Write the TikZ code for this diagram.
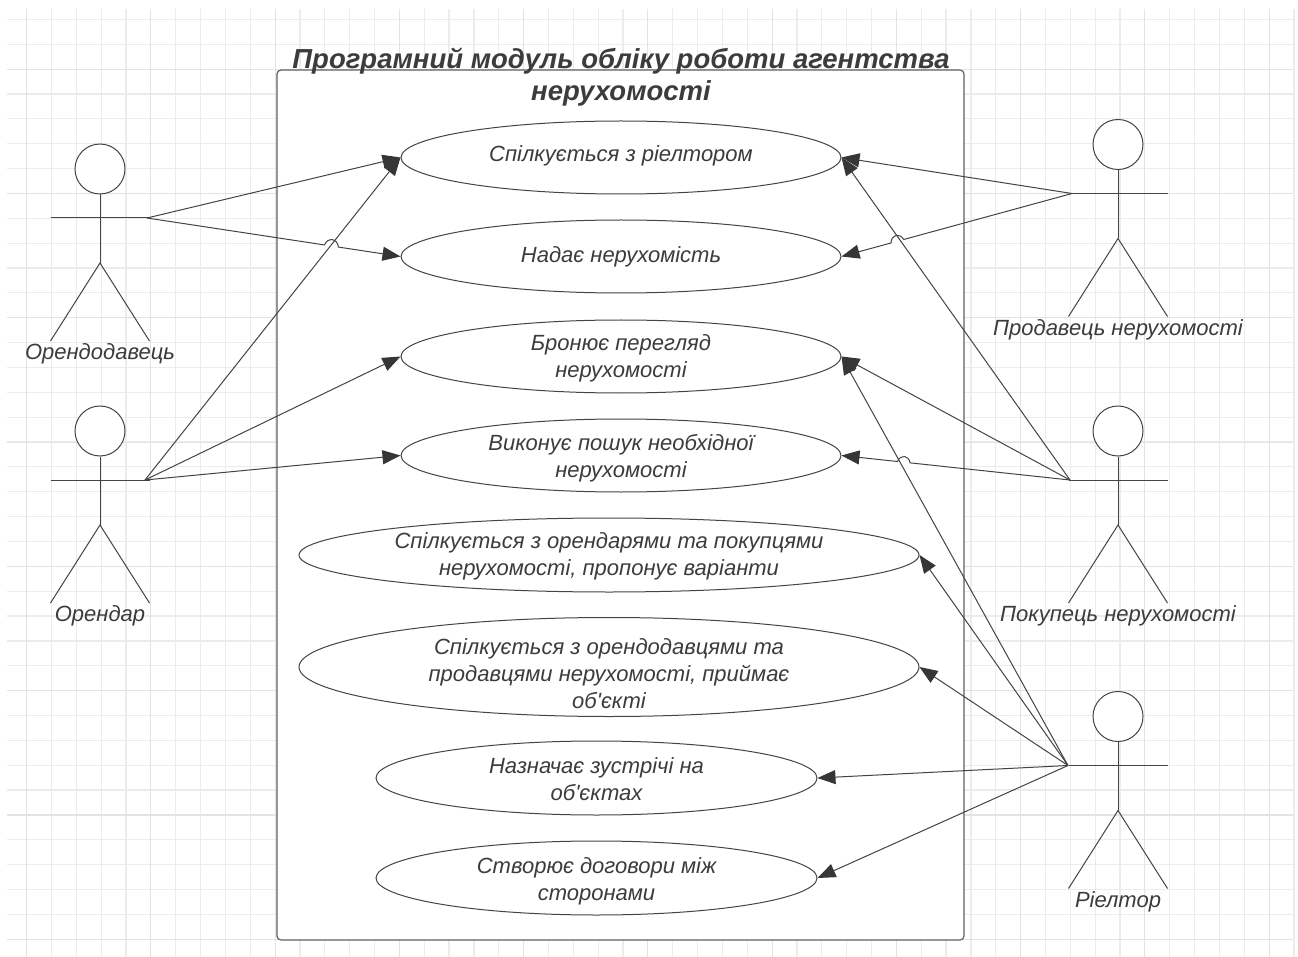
\documentclass[tikz,border=0pt]{standalone}
\usepackage{fontspec}
\setmainfont{Liberation Sans}[Ligatures=TeXOff]
\usetikzlibrary{arrows.meta,shapes.geometric,calc}
\definecolor{ln}{HTML}{444444}
\definecolor{txt}{HTML}{3C3C3C}
\definecolor{gmin}{HTML}{ECECEC}
\definecolor{gmaj}{HTML}{E3E3E3}
\tikzset{
 usecase/.style={draw=ln,line width=1pt,ellipse,fill=white,inner sep=0pt,text=txt,
   font=\fontsize{22}{27}\selectfont\itshape},
 sysbox/.style={draw=ln!85!white,line width=1.2pt,rounded corners=4pt,fill=white,minimum width=687pt,minimum height=870pt,inner sep=0pt},
 conn/.style={draw=ln,line width=1pt,-{Triangle[length=18pt,width=14pt,color=ln!80!black]}},
 limb/.style={draw=ln,line width=1pt},
 head/.style={circle,draw=ln,line width=1pt,minimum size=50pt,inner sep=0pt,fill=white},
 actorlabel/.style={text=txt,font=\fontsize{22}{27}\selectfont\itshape,inner sep=0pt},
 titlelabel/.style={text=txt,align=center,font=\fontsize{27.5}{32}\selectfont\bfseries\itshape,inner sep=0pt},
}
% use-case text, centred #1 pt below the ellipse centre
\newcommand\ut[2]{\raisebox{\dimexpr-7.5pt-#1pt\relax}[0pt][0pt]{\begin{tabular}[c]{@{}c@{}}#2\end{tabular}}}
% name, head x, head y, label, port x offset
\newcommand\actorfig[5]{%
 \node[head] (#1h) at (#2,#3) {};
 \coordinate (#1hip) at (#2,#3+94);
 \coordinate (#1al) at (#2-49.5,#3+49);
 \coordinate (#1ar) at (#2+49.5,#3+49);
 \coordinate (#1ll) at (#2-49.5,#3+172);
 \coordinate (#1lr) at (#2+49.5,#3+172);
 \coordinate (#1p) at (#2+#5,#3+49);
 \draw[limb] (#1h.south) -- (#1hip);
 \draw[limb] (#1al) -- (#1ar);
 \draw[limb] (#1ll) -- (#1hip) -- (#1lr);
 \node[actorlabel] (#1t) at (#2,#3+185) {#4};
}
\newcommand\hopconn[5]{% from, to, t1, t2, side
 \draw[conn] (#1) -- ($(#1)!#3!(#2)$) to[#5] ($(#1)!#4!(#2)$) -- (#2);
}
\begin{document}
\begin{tikzpicture}[x=1pt,y=-1pt]
\useasboundingbox (0,0) rectangle (1298,957);
\fill[white] (0,0) rectangle (1298,957);
% grid
\foreach \k in {0,...,51}{
  \pgfmathsetmacro\gx{26.6+24.85*\k}
  \draw[gmin,line width=1.2pt] (\gx,9) -- (\gx,957);
}
\foreach \k in {0,...,37}{
  \pgfmathsetmacro\gy{19.4+24.86*\k}
  \draw[gmin,line width=1.2pt] (7,\gy) -- (1293,\gy);
}
\foreach \k in {0,...,10}{
  \pgfmathsetmacro\gx{26.6+124.25*\k}
  \draw[gmaj,line width=1.2pt] (\gx,9) -- (\gx,957);
}
\foreach \k in {0,...,7}{
  \pgfmathsetmacro\gy{69.2+124.3*\k}
  \draw[gmaj,line width=1.2pt] (7,\gy) -- (1293,\gy);
}
% system box
\node[sysbox] (sys) at (620.5,505) {};
\node[titlelabel] (title) at (621,77) {Програмний модуль обліку роботи агентства\\нерухомості};
% use cases
\node[usecase,minimum width=440pt,minimum height=73pt] (u1) at (621,157.5) {\ut{-3.5}{Спілкується з ріелтором}};
\node[usecase,minimum width=440pt,minimum height=73pt] (u2) at (621,256.5) {\ut{-2}{Надає нерухомість}};
\node[usecase,minimum width=440pt,minimum height=73pt] (u3) at (621,356.5) {\ut{0}{Бронює перегляд\\нерухомості}};
\node[usecase,minimum width=440pt,minimum height=73pt] (u4) at (621,455.5) {\ut{1}{Виконує пошук необхідної\\нерухомості}};
\node[usecase,minimum width=620pt,minimum height=74pt] (u5) at (609,555) {\ut{-0.5}{Спілкується з орендарями та покупцями\\нерухомості, пропонує варіанти}};
\node[usecase,minimum width=620pt,minimum height=99pt] (u6) at (609,667) {\ut{7}{Спілкується з орендодавцями та\\продавцями нерухомості, приймає\\об'єкті}};
\node[usecase,minimum width=441pt,minimum height=74pt] (u7) at (596.5,778) {\ut{1.5}{Назначає зустрічі на\\об'єктах}};
\node[usecase,minimum width=441pt,minimum height=74pt] (u8) at (596.5,878) {\ut{1.5}{Створює договори між\\сторонами}};
% actors
\actorfig{aa}{100}{169}{Орендодавець}{47}
\actorfig{ab}{100}{431}{Орендар}{45}
\actorfig{ac}{1118}{144.5}{Продавець нерухомості}{-46}
\actorfig{ad}{1118}{431}{Покупець нерухомості}{-48}
\actorfig{ae}{1118}{716.5}{Ріелтор}{-50}
% connectors
\draw[conn] (aap) -- (u1.west);
\hopconn{aap}{u2.west}{.70}{.755}{bend left=75,looseness=1.6}
\draw[conn] (abp) -- (u1.west);
\draw[conn] (abp) -- (u3.west);
\draw[conn] (abp) -- (u4.west);
\draw[conn] (acp) -- (u1.east);
\hopconn{acp}{u2.east}{.73}{.785}{bend right=75,looseness=1.6}
\draw[conn] (adp) -- (u1.east);
\draw[conn] (adp) -- (u3.east);
\hopconn{adp}{u4.east}{.70}{.755}{bend right=75,looseness=1.6}
\draw[conn] (aep) -- (u3.east);
\draw[conn] (aep) -- (u5.east);
\draw[conn] (aep) -- (u6.east);
\draw[conn] (aep) -- (u7.east);
\draw[conn] (aep) -- (u8.east);
\end{tikzpicture}
\end{document}
